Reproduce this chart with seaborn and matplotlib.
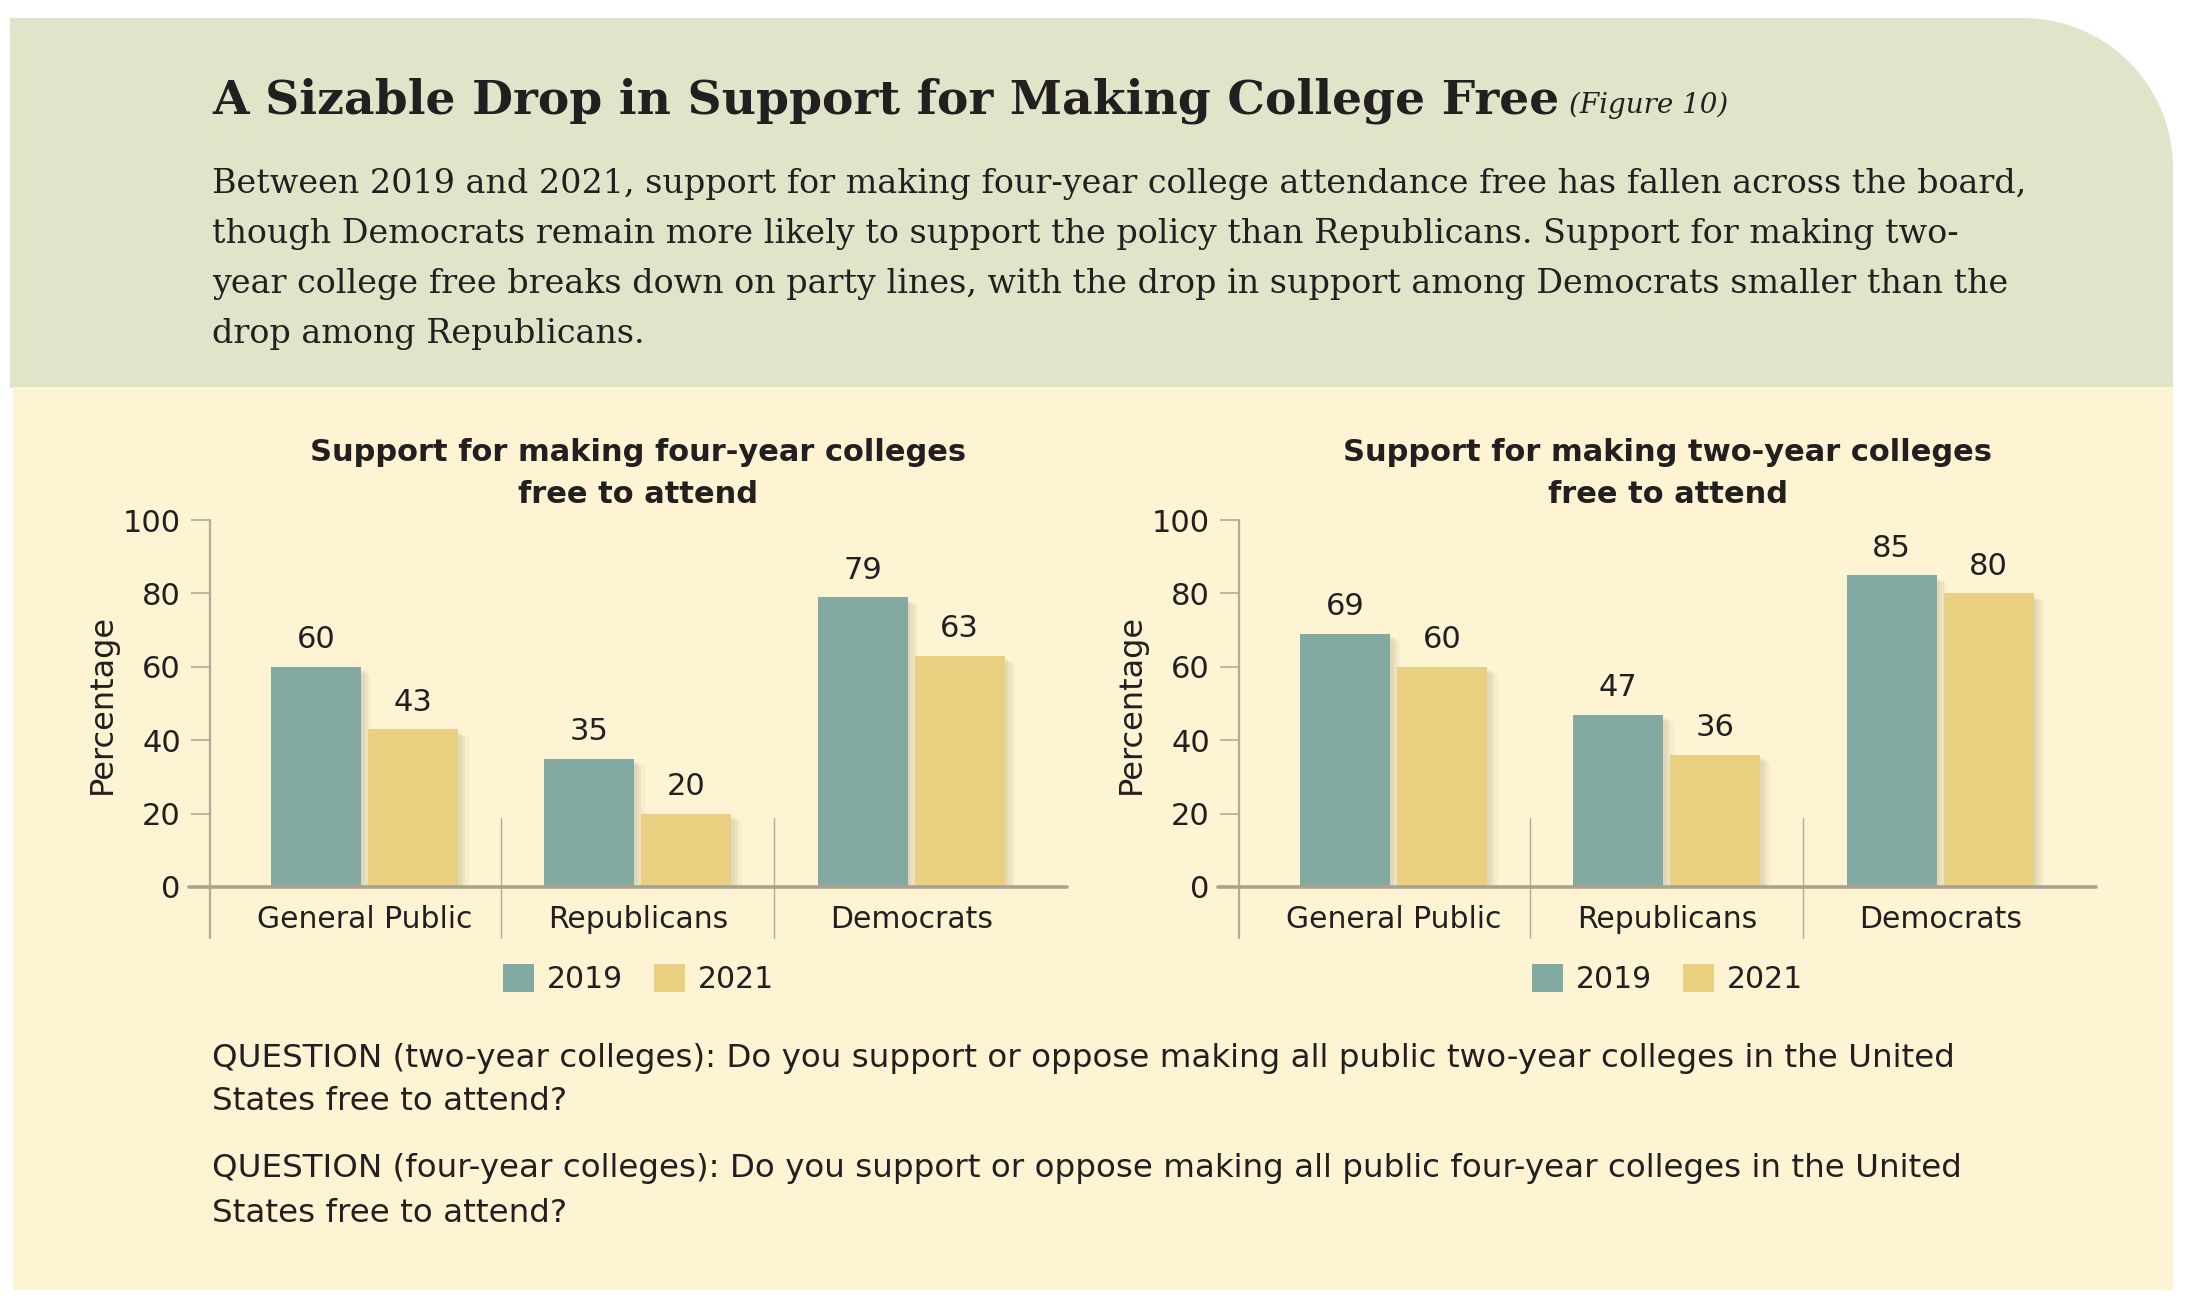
import matplotlib
matplotlib.use("Agg")
import matplotlib.pyplot as plt
import seaborn as sns
import pandas as pd
from matplotlib.patches import Rectangle, PathPatch, Patch
from matplotlib.path import Path
import matplotlib.patheffects as pe
import numpy as np

# ---------------- data ----------------
groups = ["General Public", "Republicans", "Democrats"]
years = ["2019", "2021"]
four_year_2019 = [60, 35, 79]
four_year_2021 = [43, 20, 63]
two_year_2019 = [69, 47, 85]
two_year_2021 = [60, 36, 80]
yticks = [0, 20, 40, 60, 80, 100]

title_text = "A Sizable Drop in Support for Making College Free"
figure_tag = "(Figure 10)"
intro_lines = [
    "Between 2019 and 2021, support for making four-year college attendance free has fallen across the board,",
    "though Democrats remain more likely to support the policy than Republicans. Support for making two-",
    "year college free breaks down on party lines, with the drop in support among Democrats smaller than the",
    "drop among Republicans.",
]
question_lines = [
    "QUESTION (two-year colleges): Do you support or oppose making all public two-year colleges in the United",
    "States free to attend?",
    "QUESTION (four-year colleges): Do you support or oppose making all public four-year colleges in the United",
    "States free to attend?",
]
chart_titles = [
    ["Support for making four-year colleges", "free to attend"],
    ["Support for making two-year colleges", "free to attend"],
]
y_label = "Percentage"

TEAL = "#82aaa2"
GOLD = "#e9cf80"
GREEN_BG = "#e0e4c9"
CREAM_BG = "#fef3d3"
TEXT = "#231f20"
AXIS_GRAY = "#b3ab97"

W, H = 2187, 1306
sns.set_theme(style="white")
plt.rcParams["font.family"] = ["DejaVu Sans"]

fig = plt.figure(figsize=(W / 100, H / 100), dpi=100)
fig.patch.set_facecolor("white")

# ---------------- background panels (pixel coordinates) ----------------
bg = fig.add_axes([0, 0, 1, 1], zorder=-10)
bg.set_xlim(0, W)
bg.set_ylim(H, 0)
bg.axis("off")

x0, x1, y0, y1, R = 10, 2173, 18, 388, 150
theta = np.linspace(np.pi / 2, 0, 40)
arc = np.column_stack([x1 - R + R * np.cos(theta), y0 + R - R * np.sin(theta)])
verts = [(x0, y1), (x0, y0)] + [tuple(p) for p in arc] + [(x1, y1), (x0, y1)]
codes = [Path.MOVETO] + [Path.LINETO] * (len(verts) - 2) + [Path.CLOSEPOLY]
bg.add_patch(PathPatch(Path(verts, codes), facecolor=GREEN_BG, edgecolor="none"))
bg.add_patch(Rectangle((13, 387), 2173 - 13, 1290 - 387, facecolor=CREAM_BG, edgecolor="none"))

# header text
t_main = bg.text(212, 113, title_text, fontsize=34, fontweight="bold", family="DejaVu Serif",
                 color=TEXT, va="baseline", ha="left")
fig.canvas.draw()
bb = t_main.get_window_extent(renderer=fig.canvas.get_renderer())
tag_x = bb.x1 + 10
bg.text(tag_x, 113, figure_tag, fontsize=20, fontstyle="italic", family="DejaVu Serif",
        color=TEXT, va="baseline", ha="left")
for i, line in enumerate(intro_lines):
    bg.text(212, 193 + 50 * i, line, fontsize=24, family="DejaVu Serif",
            color=TEXT, va="baseline", ha="left")

# footnote questions
for line, yb in zip(question_lines, [1067, 1110, 1177, 1222]):
    bg.text(212, yb, line, fontsize=23.4, color=TEXT, va="baseline", ha="left")

# ---------------- charts ----------------
def make_chart(rect, v2019, v2021, title_lines):
    ax = fig.add_axes(rect)
    ax.set_facecolor("none")
    df = pd.DataFrame({
        "group": groups * 2,
        "year": [years[0]] * 3 + [years[1]] * 3,
        "value": list(v2019) + list(v2021),
    })
    sns.barplot(data=df, x="group", y="value", hue="year", order=groups,
                hue_order=years, palette=[TEAL, GOLD], width=0.71, gap=0.07,
                saturation=1, legend=False, ax=ax, zorder=3)
    shadow = [pe.SimplePatchShadow(offset=(2.5, -2.5), shadow_rgbFace="#9b926f", alpha=0.12),
              pe.SimplePatchShadow(offset=(5, -4), shadow_rgbFace="#9b926f", alpha=0.10),
              pe.SimplePatchShadow(offset=(7.5, -5), shadow_rgbFace="#9b926f", alpha=0.07),
              pe.Normal()]
    for p in ax.patches:
        p.set_edgecolor("none")
        p.set_path_effects(shadow)
    for cont, vals in zip(ax.containers, [v2019, v2021]):
        ax.bar_label(cont, labels=[str(v) for v in vals], padding=9,
                     fontsize=22, color=TEXT)

    ax.set_xlim(-0.565, 2.57)
    ax.set_ylim(0, 100)
    ax.set_yticks(yticks)
    ax.set_yticklabels([str(t) for t in yticks])
    ax.set_xlabel("")
    ax.set_ylabel("")
    for s in ax.spines.values():
        s.set_visible(False)
    ax.tick_params(axis="y", length=14, width=1.2, color=AXIS_GRAY, pad=7,
                   labelsize=22, labelcolor=TEXT, direction="out", left=True)
    ax.tick_params(axis="x", length=0, pad=13, labelsize=21.5, labelcolor=TEXT)

    xt = ax.get_xaxis_transform()
    ax.plot([0, 0], [-0.139, 1.0], transform=ax.transAxes, color=AXIS_GRAY,
            lw=1.6, clip_on=False, zorder=2)
    ax.plot([-0.024, 1.0], [0, 0], transform=ax.transAxes, color="#a9a28f",
            lw=2.6, clip_on=False, zorder=4)
    for xs in [0.5, 1.5]:
        ax.plot([xs, xs], [-0.139, 0.188], transform=xt, color=AXIS_GRAY,
                lw=1.0, clip_on=False, zorder=1)

    ax.text(-0.126, 0.5, y_label, rotation=90, transform=ax.transAxes,
            ha="center", va="center", fontsize=23, color=TEXT)
    ax.text(0.5, 1.1826, title_lines[0], transform=ax.transAxes, ha="center",
            va="center", fontsize=22, fontweight="bold", color=TEXT)
    ax.text(0.5, 1.0708, title_lines[1], transform=ax.transAxes, ha="center",
            va="center", fontsize=22, fontweight="bold", color=TEXT)

    handles = [Patch(facecolor=TEAL, edgecolor="none"), Patch(facecolor=GOLD, edgecolor="none")]
    ax.legend(handles, years, loc="center", bbox_to_anchor=(0.5, -0.251), ncol=2,
              frameon=False, fontsize=21.5, handlelength=1.04, handleheight=1.04,
              handletextpad=0.42, columnspacing=1.05, labelcolor=TEXT)
    return ax

make_chart([210 / W, 1 - 887 / H, 857 / W, 367 / H], four_year_2019, four_year_2021, chart_titles[0])
make_chart([1239 / W, 1 - 887 / H, 857 / W, 367 / H], two_year_2019, two_year_2021, chart_titles[1])

fig.savefig("out.png", dpi=100, facecolor=fig.get_facecolor())
